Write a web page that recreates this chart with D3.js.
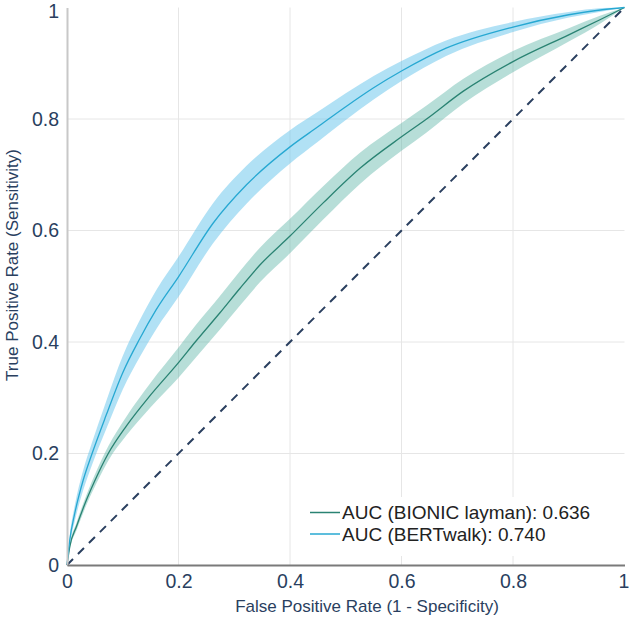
<!DOCTYPE html>
<html><head><meta charset="utf-8">
<script src="https://cdn.jsdelivr.net/npm/d3@7"></script>
<style>html,body{margin:0;padding:0;background:#fff}svg{display:block}</style>
</head><body>
<svg id="c" width="629" height="622"></svg>
<script>
// ---- data ----
const xTicks = [0, 0.2, 0.4, 0.6, 0.8, 1];
const yTicks = [0, 0.2, 0.4, 0.6, 0.8, 1];
const tickLabels = ["0", "0.2", "0.4", "0.6", "0.8", "1"];

const bertFpr = [0, 0.005, 0.014, 0.029, 0.045, 0.07, 0.1, 0.13, 0.16, 0.2, 0.262, 0.322, 0.4, 0.45, 0.5, 0.55, 0.6, 0.68, 0.8, 0.9, 0.96, 1];
const bertTpr = [0, 0.045, 0.093, 0.152, 0.2, 0.268, 0.345, 0.405, 0.458, 0.517, 0.613, 0.682, 0.75, 0.786, 0.822, 0.856, 0.886, 0.927, 0.965, 0.987, 0.996, 1];
const bertBand = [0, 0.008, 0.014, 0.018, 0.02, 0.025, 0.03, 0.033, 0.035, 0.036, 0.036, 0.034, 0.03, 0.027, 0.024, 0.021, 0.018, 0.014, 0.009, 0.005, 0.003, 0];

const bionicFpr = [0, 0.005, 0.017, 0.035, 0.053, 0.074, 0.107, 0.15, 0.2, 0.23, 0.274, 0.31, 0.346, 0.4, 0.46, 0.526, 0.6, 0.645, 0.711, 0.8, 0.9, 0.956, 1];
const bionicTpr = [0, 0.033, 0.069, 0.117, 0.158, 0.2, 0.25, 0.305, 0.363, 0.4, 0.452, 0.496, 0.538, 0.59, 0.65, 0.712, 0.768, 0.8, 0.85, 0.903, 0.951, 0.978, 1];
const bionicBand = [0, 0.004, 0.007, 0.009, 0.011, 0.013, 0.017, 0.022, 0.027, 0.029, 0.03, 0.031, 0.031, 0.031, 0.03, 0.028, 0.025, 0.024, 0.022, 0.019, 0.012, 0.007, 0];

const seriesNames = ["AUC (BIONIC layman): 0.636", "AUC (BERTwalk): 0.740"];
const lineColors = ["#2a8373", "#27a8d2"];
const bandColors = ["rgba(96,182,168,0.45)", "rgba(100,196,236,0.5)"];

// ---- layout ----
const svg = d3.select("#c");
const x = d3.scaleLinear().domain([0, 1]).range([67, 624.5]);
const y = d3.scaleLinear().domain([0, 1]).range([565, 7.5]);
const textColor = "#2a3f5f";
const font = "'Liberation Sans', Arial, Helvetica, sans-serif";

// gridlines
svg.append("g").selectAll("line.v").data(xTicks.filter(d => d > 0 && d < 1)).join("line")
  .attr("x1", d => x(d)).attr("x2", d => x(d)).attr("y1", y(0)).attr("y2", y(1))
  .attr("stroke", "#e6e6e6").attr("stroke-width", 1);
svg.append("g").selectAll("line.h").data(yTicks.filter(d => d > 0 && d < 1)).join("line")
  .attr("x1", x(0)).attr("x2", x(1)).attr("y1", d => y(d)).attr("y2", d => y(d))
  .attr("stroke", "#e6e6e6").attr("stroke-width", 1);

// series
const series = [
  {fpr: bionicFpr, tpr: bionicTpr, band: bionicBand},
  {fpr: bertFpr, tpr: bertTpr, band: bertBand}
];
series.forEach((s, i) => {
  const pts = s.fpr.map((f, k) => ({f, t: s.tpr[k], b: s.band[k]}));
  const area = d3.area().x(d => x(d.f))
    .y0(d => y(Math.max(0, d.t - d.b))).y1(d => y(Math.min(1, d.t + d.b)))
    .curve(d3.curveMonotoneX);
  svg.append("path").datum(pts).attr("d", area).attr("fill", bandColors[i]);
});
series.forEach((s, i) => {
  const pts = s.fpr.map((f, k) => ({f, t: s.tpr[k]}));
  const line = d3.line().x(d => x(d.f)).y(d => y(d.t)).curve(d3.curveMonotoneX);
  svg.append("path").datum(pts).attr("d", line).attr("fill", "none")
    .attr("stroke", lineColors[i]).attr("stroke-width", 1.3);
});

// diagonal
svg.append("line").attr("x1", x(0)).attr("y1", y(0)).attr("x2", x(1)).attr("y2", y(1))
  .attr("stroke", "#2a3f5f").attr("stroke-width", 2).attr("stroke-dasharray", "8.5,7");

// axes
const xAxis = d3.axisBottom(x).tickValues(xTicks).tickFormat((d, i) => tickLabels[i]).tickSize(0).tickPadding(9);
const gx = svg.append("g").attr("transform", `translate(0,${y(0)})`).call(xAxis);
gx.select(".domain").attr("stroke", "#7a7a7a").attr("stroke-width", 2);
gx.selectAll("text").attr("fill", textColor).style("font-family", font).style("font-size", "19.5px");
gx.selectAll(".tick").filter(d => d === 1).select("text").attr("x", -1);

const yAxis = d3.axisLeft(y).tickValues(yTicks).tickFormat((d, i) => tickLabels[i]).tickSize(0).tickPadding(8);
const gy = svg.append("g").attr("transform", `translate(${x(0)},0)`).call(yAxis);
gy.select(".domain").attr("stroke", "#c8c8c8").attr("stroke-width", 2);
gy.selectAll("text").attr("fill", textColor).style("font-family", font).style("font-size", "19.5px");
gy.selectAll(".tick").filter(d => d === 1).select("text").attr("y", 3.5);
gx.raise();

// axis titles
svg.append("text").attr("x", 367).attr("y", 612).attr("text-anchor", "middle")
  .attr("fill", textColor).style("font-family", font).style("font-size", "17px")
  .text("False Positive Rate (1 - Specificity)");
svg.append("text").attr("transform", `translate(18,265) rotate(-90)`)
  .attr("text-anchor", "middle").attr("fill", textColor).style("font-family", font).style("font-size", "17px")
  .text("True Positive Rate (Sensitivity)");

// legend
const lg = svg.append("g");
lg.append("rect").attr("x", 305).attr("y", 497).attr("width", 310).attr("height", 59).attr("fill", "#fff");
seriesNames.forEach((name, i) => {
  const cy = 512.5 + i * 21.5;
  lg.append("line").attr("x1", 310).attr("x2", 340).attr("y1", cy).attr("y2", cy)
    .attr("stroke", lineColors[i]).attr("stroke-width", 1.5);
  lg.append("text").attr("x", 342).attr("y", cy).attr("dy", "0.35em")
    .attr("fill", "#222").style("font-family", font).style("font-size", "19px").text(name);
});
</script>
</body></html>
